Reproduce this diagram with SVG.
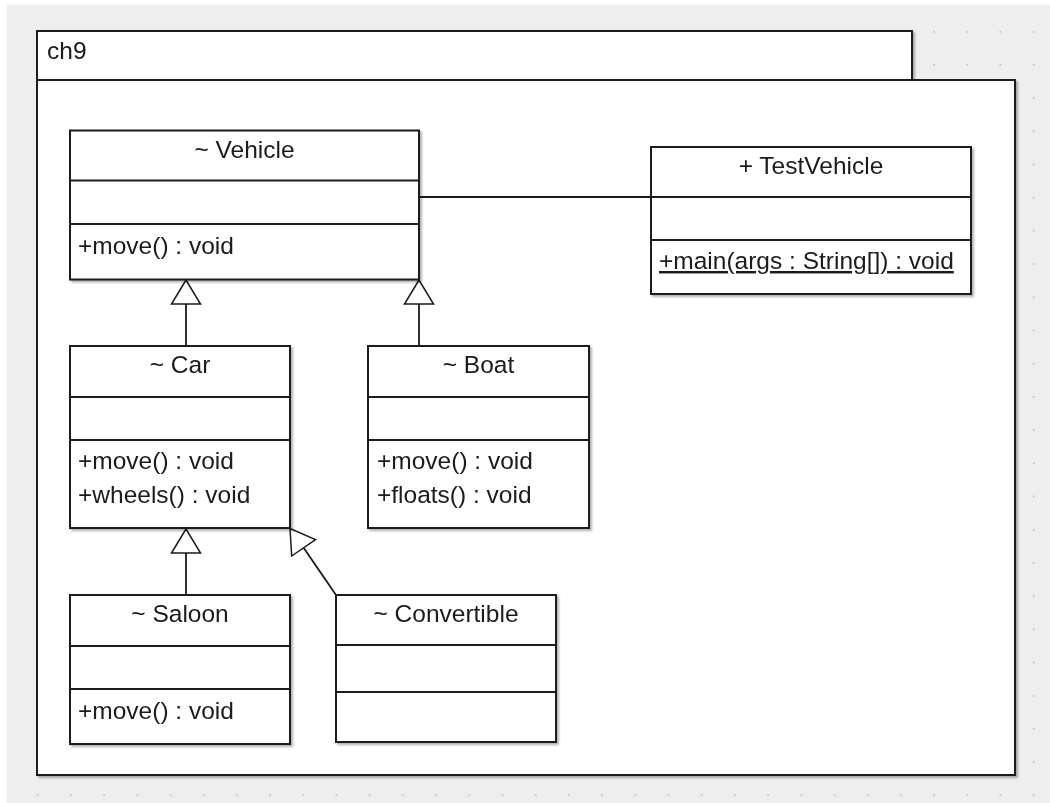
<svg xmlns="http://www.w3.org/2000/svg" width="1050" height="803" viewBox="0 0 1050 803">
  <style>
    text { font-family: "Liberation Sans", Arial, sans-serif; font-size: 24.5px; fill: #1a1a1a; }
    .title { text-anchor: middle; }
    .box { fill: #ffffff; stroke: #1a1a1a; stroke-width: 2; }
    .div { stroke: #1a1a1a; stroke-width: 2; }
    .conn { stroke: #1a1a1a; stroke-width: 1.8; fill: none; }
    .tri { fill: #ffffff; stroke: #1a1a1a; stroke-width: 1.5; stroke-linejoin: miter; }
  </style>
  <defs>
    <pattern id="dots" patternUnits="userSpaceOnUse" x="3.5" y="-2.5" width="33.2" height="33.2">
      <rect x="0" y="0" width="2" height="2" fill="#cccccc"/>
    </pattern>
    <filter id="shadow" x="-5%" y="-5%" width="110%" height="110%">
      <feDropShadow dx="2" dy="2" stdDeviation="1.2" flood-color="#000000" flood-opacity="0.3"/>
    </filter>
  </defs>

  <rect x="0" y="0" width="1050" height="803" fill="#ffffff"/>
  <rect x="7" y="5" width="1043" height="798" fill="#eeeeee"/>
  <rect x="7" y="5" width="1043" height="798" fill="url(#dots)"/>

  <g id="package-ch9" filter="url(#shadow)">
    <rect x="37" y="31" width="875" height="49" class="box"/>
    <rect x="37" y="80" width="978" height="695" class="box"/>
    <text x="47" y="59">ch9</text>
  </g>

  <g id="connectors">
    <line x1="419" y1="197" x2="651" y2="197" class="conn"/>
    <line x1="186" y1="346" x2="186" y2="304" class="conn"/>
    <polygon points="186,280 171.5,304 200.5,304" class="tri"/>
    <line x1="419" y1="346" x2="419" y2="304" class="conn"/>
    <polygon points="419,280 404.5,304 433.5,304" class="tri"/>
    <line x1="186" y1="595" x2="186" y2="553" class="conn"/>
    <polygon points="186,529 171.5,553 200.5,553" class="tri"/>
    <line x1="336" y1="595" x2="303.6" y2="547.8" class="conn"/>
    <polygon points="290,528.5 315.5,539.6 291.7,556" class="tri"/>
  </g>

  <g id="Vehicle" filter="url(#shadow)">
    <rect x="70" y="130.5" width="349" height="149" class="box"/>
    <line x1="70" y1="180.5" x2="419" y2="180.5" class="div"/>
    <line x1="70" y1="224" x2="419" y2="224" class="div"/>
    <text x="244.5" y="158" class="title">~ Vehicle</text>
    <text x="78" y="254">+move() : void</text>
  </g>

  <g id="TestVehicle" filter="url(#shadow)">
    <rect x="651" y="147" width="320" height="147" class="box"/>
    <line x1="651" y1="197" x2="971" y2="197" class="div"/>
    <line x1="651" y1="240" x2="971" y2="240" class="div"/>
    <text x="811" y="174" class="title">+ TestVehicle</text>
    <text x="659" y="269" text-decoration="underline">+main(args : String[]) : void</text>
  </g>

  <g id="Car" filter="url(#shadow)">
    <rect x="70" y="346" width="220" height="182" class="box"/>
    <line x1="70" y1="397" x2="290" y2="397" class="div"/>
    <line x1="70" y1="440" x2="290" y2="440" class="div"/>
    <text x="180" y="373" class="title">~ Car</text>
    <text x="78" y="469">+move() : void</text>
    <text x="78" y="503">+wheels() : void</text>
  </g>

  <g id="Boat" filter="url(#shadow)">
    <rect x="368" y="346" width="221" height="182" class="box"/>
    <line x1="368" y1="397" x2="589" y2="397" class="div"/>
    <line x1="368" y1="440" x2="589" y2="440" class="div"/>
    <text x="478.5" y="373" class="title">~ Boat</text>
    <text x="377" y="469">+move() : void</text>
    <text x="377" y="503">+floats() : void</text>
  </g>

  <g id="Saloon" filter="url(#shadow)">
    <rect x="70" y="595" width="220" height="149" class="box"/>
    <line x1="70" y1="646" x2="290" y2="646" class="div"/>
    <line x1="70" y1="689" x2="290" y2="689" class="div"/>
    <text x="180" y="622" class="title">~ Saloon</text>
    <text x="78" y="719">+move() : void</text>
  </g>

  <g id="Convertible" filter="url(#shadow)">
    <rect x="336" y="595" width="220" height="147" class="box"/>
    <line x1="336" y1="645" x2="556" y2="645" class="div"/>
    <line x1="336" y1="692" x2="556" y2="692" class="div"/>
    <text x="446" y="622" class="title">~ Convertible</text>
  </g>
</svg>
